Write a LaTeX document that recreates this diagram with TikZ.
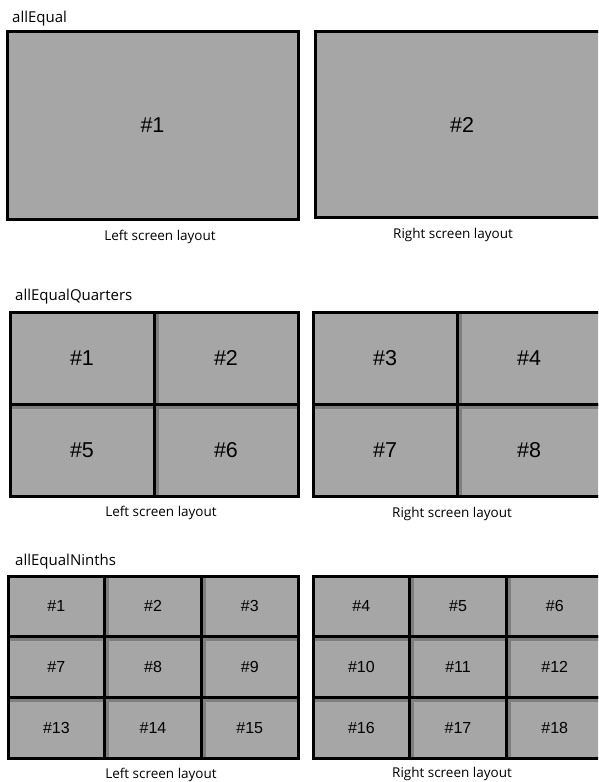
\documentclass[tikz,border=0pt]{standalone}
\usepackage{fontspec}
\usepackage{tikz}
\usetikzlibrary{positioning}
\newfontfamily\capfont{Open Sans}
\newfontfamily\numfont{Liberation Sans}
\definecolor{screengrey}{HTML}{A6A6A6}
\definecolor{shadegrey}{HTML}{7E7E7E}

\begin{document}
\begin{tikzpicture}[
    x=1pt, y=-1pt,
    title/.style={anchor=base west,inner sep=0pt,font=\capfont\fontsize{15}{18}\selectfont},
    caption/.style={anchor=base,inner sep=0pt,font=\capfont\fontsize{13.5}{16}\selectfont},
    cell/.style={draw,line width=3pt,fill=screengrey,inner sep=0pt,outer sep=0pt,font=\numfont\fontsize{21.5}{24}\selectfont},
    cellsmall/.style={cell,font=\numfont\fontsize{16}{19}\selectfont},
    shade/.style={fill=shadegrey}
  ]
    \clip (0,0) rectangle (598,782);

    % allEqual
    \node[title] (t1) at (12,22) {allEqual};
    \node[cell, minimum width=291, minimum height=188] (e1) at (152.5,125) {\#1};
    \node[cell, minimum width=294, minimum height=186] (e2) at (462,124.5) {\#2};
    \node[caption] (c1l) at (160,240) {Left screen layout};
    \node[caption] (c1r) at (453,238) {Right screen layout};

    % allEqualQuarters
    \node[title] (t2) at (15,300.5) {allEqualQuarters};
    \foreach \side/\x/\off in {L/10/1, R/313/3} {
      \foreach \r in {0,1} {
        \foreach \c in {0,1} {
          \pgfmathtruncatemacro{\num}{4*\r+\c+\off}
          \node[cell, minimum width=144, minimum height=92] (q\side\num) at (\x+72+144*\c, 312+46+92*\r) {\#\num};
          \ifnum\c>0
            \fill[shade] ([xshift=1.5pt,yshift=-1.5pt]q\side\num.north west) rectangle ([xshift=4.5pt,yshift=1.5pt]q\side\num.south west);
          \fi
          \ifnum\r>0
            \fill[shade] ([xshift=1.5pt,yshift=-1.5pt]q\side\num.north west) rectangle ([xshift=-1.5pt,yshift=-4.5pt]q\side\num.north east);
          \fi
        }
      }
    }
    \node[caption] (c2l) at (161,516) {Left screen layout};
    \node[caption] (c2r) at (452,517) {Right screen layout};

    % allEqualNinths
    \node[title] (t3) at (15,565) {allEqualNinths};
    \foreach \side/\x/\off in {L/8/1, R/313/4} {
      \foreach \r in {0,1,2} {
        \foreach \c in {0,1,2} {
          \pgfmathtruncatemacro{\num}{6*\r+\c+\off}
          \node[cellsmall, minimum width=96.7, minimum height=60.7] (n\side\num) at (\x+48.35+96.7*\c, 576+30.35+60.7*\r) {\#\num};
          \ifnum\c>0
            \fill[shade] ([xshift=1.5pt,yshift=-1.5pt]n\side\num.north west) rectangle ([xshift=4.5pt,yshift=1.5pt]n\side\num.south west);
          \fi
          \ifnum\r>0
            \fill[shade] ([xshift=1.5pt,yshift=-1.5pt]n\side\num.north west) rectangle ([xshift=-1.5pt,yshift=-4.5pt]n\side\num.north east);
          \fi
        }
      }
    }
    \node[caption] (c3l) at (161,778) {Left screen layout};
    \node[caption] (c3r) at (452,777) {Right screen layout};
  \end{tikzpicture}
\end{document}
